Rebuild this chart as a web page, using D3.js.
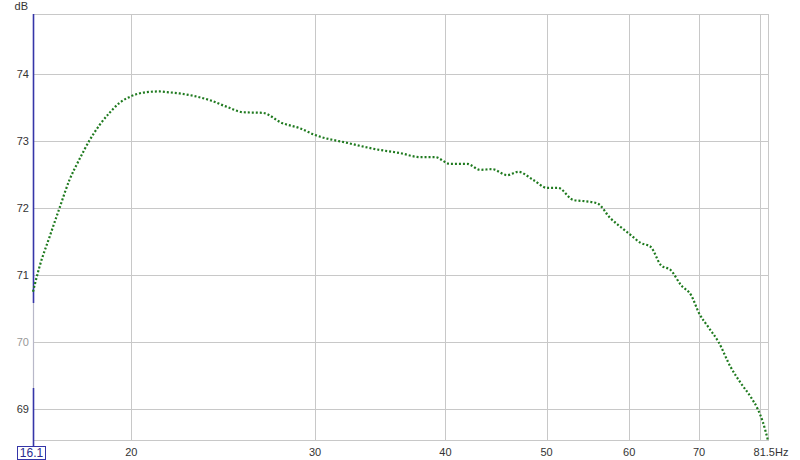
<!DOCTYPE html>
<html>
<head>
<meta charset="utf-8">
<script src="https://cdn.jsdelivr.net/npm/d3@7"></script>
<style>
  html, body { margin: 0; padding: 0; background: #fff; }
  svg { display: block; }
  text { font-family: "Liberation Sans", Arial, sans-serif; font-size: 11px; fill: #333; }
</style>
</head>
<body>
<svg id="chart" width="800" height="460"></svg>
<script>
// ---- data ----
const freqs = [16.1, 16.33, 16.70, 17.07, 17.45, 17.84, 18.24, 18.65, 19.06, 19.49, 20.0,
  20.69, 21.29, 21.62, 22.25, 23.00, 23.78, 24.69, 25.58, 26.73, 27.88, 29.01, 30.0,
  32.25, 34.24, 36.18, 37.83, 39.09, 40.39, 41.95, 43.18, 44.34, 45.84, 46.97, 48.54,
  50.07, 51.30, 53.03, 54.45, 55.92, 57.54, 58.84, 60.17, 61.52, 62.91, 64.33, 65.78,
  67.26, 68.78, 70.0, 71.46, 73.07, 75.03, 76.72, 78.45, 79.67, 80.6, 81.5];
const dbValues = [70.75, 71.12, 71.57, 72.0, 72.42, 72.73, 73.01, 73.24, 73.42, 73.57, 73.67,
  73.73, 73.74, 73.73, 73.71, 73.67, 73.61, 73.51, 73.43, 73.42, 73.27, 73.19, 73.09,
  72.97, 72.88, 72.82, 72.76, 72.76, 72.66, 72.66, 72.57, 72.58, 72.49, 72.54, 72.42,
  72.30, 72.30, 72.12, 72.10, 72.07, 71.85, 71.72, 71.60, 71.48, 71.42, 71.15, 71.07,
  70.85, 70.70, 70.43, 70.22, 70.0, 69.63, 69.39, 69.18, 69.00, 68.80, 68.53];
const yTicks = [69, 70, 71, 72, 73, 74];
const xGridTicks = [20, 30, 40, 50, 60, 70, 80];
const xTickLabels = ["20", "30", "40", "50", "60", "70"];
const xMinLabel = "16.1";
const xMaxLabel = "81.5Hz";
const yUnit = "dB";

// ---- layout ----
const mLeft = 33, mRight = 768, mTop = 14, mBottom = 440;
const svg = d3.select("#chart");

const x = d3.scaleLog().domain([16.1, 81.5]).range([mLeft, mRight]);
const y = d3.scaleLinear().domain([68.537, 74.896]).range([mBottom, mTop]);

// grid: horizontal
svg.append("g").selectAll("line").data(yTicks).join("line")
  .attr("x1", mLeft).attr("x2", mRight)
  .attr("y1", d => Math.round(y(d)) + 0.5).attr("y2", d => Math.round(y(d)) + 0.5)
  .attr("stroke", "#c8c8c8").attr("stroke-width", 1);

// grid: vertical
svg.append("g").selectAll("line").data(xGridTicks).join("line")
  .attr("x1", d => Math.round(x(d)) + 0.5).attr("x2", d => Math.round(x(d)) + 0.5)
  .attr("y1", mTop).attr("y2", mBottom)
  .attr("stroke", "#c8c8c8").attr("stroke-width", 1);

// frame
svg.append("rect")
  .attr("x", mLeft + 0.5).attr("y", mTop + 0.5)
  .attr("width", mRight - mLeft).attr("height", mBottom - mTop)
  .attr("fill", "none").attr("stroke", "#c8c8c8").attr("stroke-width", 1);

// left axis (blue, with lighter middle segment)
svg.append("line").attr("x1", mLeft + 0.5).attr("x2", mLeft + 0.5)
  .attr("y1", mTop).attr("y2", 303).attr("stroke", "#3535a8").attr("stroke-width", 1.6);
svg.append("line").attr("x1", mLeft + 0.5).attr("x2", mLeft + 0.5)
  .attr("y1", 303).attr("y2", 388).attr("stroke", "#b8b8c8").attr("stroke-width", 1.2);
svg.append("line").attr("x1", mLeft + 0.5).attr("x2", mLeft + 0.5)
  .attr("y1", 388).attr("y2", mBottom + 6).attr("stroke", "#3535a8").attr("stroke-width", 1.6);

// y labels
svg.append("g").selectAll("text").data(yTicks).join("text")
  .attr("x", 29).attr("y", d => y(d) + 4)
  .attr("text-anchor", "end")
  .style("fill", d => d === 70 ? "#999" : "#333")
  .text(d => d);
svg.append("text").attr("x", 28).attr("y", 10).attr("text-anchor", "end").text(yUnit);

// x labels
svg.append("g").selectAll("text").data(xTickLabels).join("text")
  .attr("x", d => x(+d)).attr("y", 456)
  .attr("text-anchor", "middle")
  .text(d => d);

// min label in blue box
svg.append("rect").attr("x", 17.5).attr("y", 446.5).attr("width", 28).attr("height", 13)
  .attr("fill", "#fff").attr("stroke", "#3535a8").attr("stroke-width", 1);
svg.append("text").attr("x", 31.5).attr("y", 457).attr("text-anchor", "middle")
  .style("fill", "#2a2a90").style("font-size", "12px").text(xMinLabel);

// max label
svg.append("text").attr("x", x(81.5) + 3).attr("y", 456).attr("text-anchor", "middle")
  .text(xMaxLabel);

// curve
const pts = freqs.map((f, i) => [f, dbValues[i]]);
const line = d3.line().x(d => x(d[0])).y(d => y(d[1])).curve(d3.curveMonotoneX);
svg.append("path").datum(pts)
  .attr("d", line)
  .attr("fill", "none")
  .attr("stroke", "#1f7a1f")
  .attr("stroke-width", 2.2)
  .attr("stroke-dasharray", "2,2");
</script>
</body>
</html>
